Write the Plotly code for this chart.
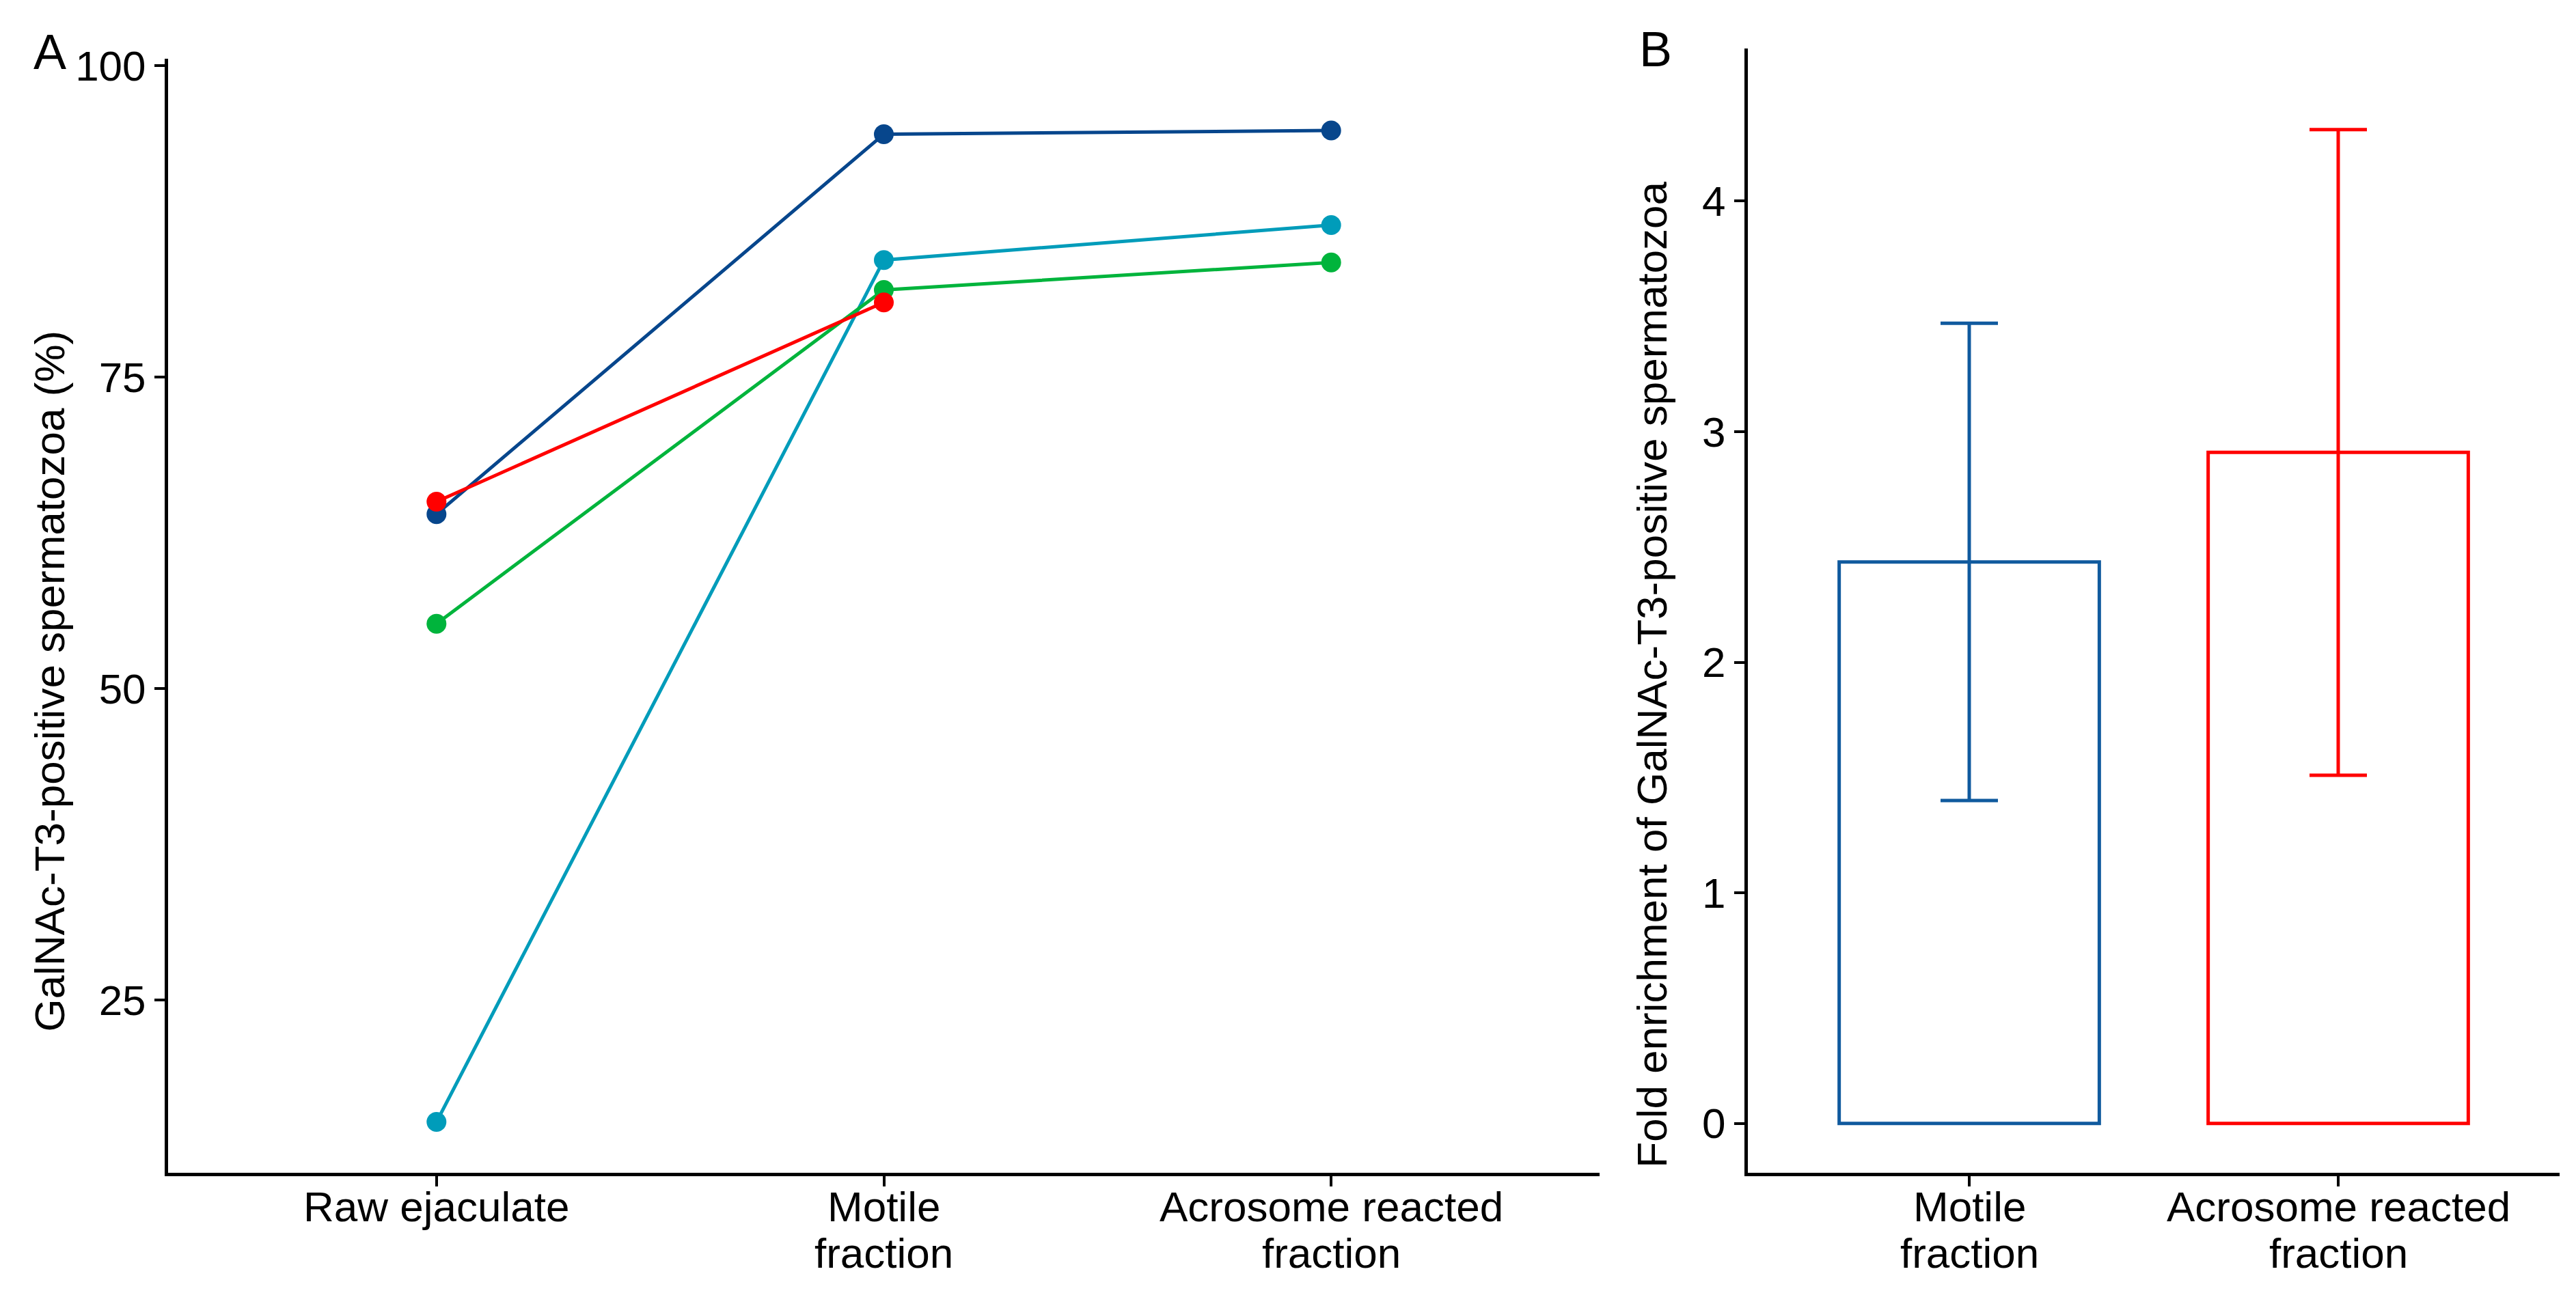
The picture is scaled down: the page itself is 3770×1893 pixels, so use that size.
import plotly.graph_objects as go

# ---- Panel A data ----
stages = ["Raw ejaculate", "Motile\nfraction", "Acrosome reacted\nfraction"]
stage_pos = [0, 1, 2]
donor1 = [64.0, 94.5, 94.8]     # dark blue
donor2 = [15.2, 84.4, 87.2]     # cyan
donor3 = [55.2, 82.0, 84.2]     # green
donor4 = [65.0, 81.0]           # red (no acrosome value)
series_colors = ["#07468C", "#009CBA", "#00B43C", "#FF0000"]
a_ticks = [25, 50, 75, 100]

# ---- Panel B data ----
fractions = ["Motile\nfraction", "Acrosome reacted\nfraction"]
fraction_pos = [0, 1]
fold_mean = [2.435, 2.91]
fold_upper = [3.47, 4.31]
fold_lower = [1.40, 1.51]
bar_colors = ["#105A9E", "#FF0000"]
b_ticks = [0, 1, 2, 3, 4]

W, H = 3770, 1893
FONT = "Liberation Sans, Arial, sans-serif"
DX = -5  # small horizontal correction

def px(x):
    return (x + DX) / W

def py(y):
    return 1 - y / H

fig = go.Figure()

for ys, col in zip([donor1, donor2, donor3, donor4], series_colors):
    fig.add_trace(go.Scatter(
        x=stage_pos[:len(ys)], y=ys, mode="lines+markers",
        line=dict(color=col, width=5),
        marker=dict(color=col, size=29),
        xaxis="x", yaxis="y", showlegend=False))

for i in range(len(fractions)):
    fig.add_trace(go.Bar(
        x=[fraction_pos[i]], y=[fold_mean[i]], width=0.705,
        marker=dict(color="rgba(255,255,255,0)", line=dict(color=bar_colors[i], width=5)),
        error_y=dict(type="data", symmetric=False,
                     array=[fold_upper[i] - fold_mean[i]],
                     arrayminus=[fold_mean[i] - fold_lower[i]],
                     color=bar_colors[i], thickness=5, width=42),
        xaxis="x2", yaxis="y2", showlegend=False))

axis_common = dict(showline=True, linecolor="black", linewidth=5,
                   ticks="outside", ticklen=15, tickwidth=4, tickcolor="black",
                   showgrid=False, zeroline=False,
                   tickfont=dict(family=FONT, size=62, color="black"))

annotations = [
    dict(text="GalNAc-T3-positive spermatozoa (%)", textangle=-90,
         x=px(70), y=py(978), xref="paper", yref="paper",
         xanchor="center", yanchor="middle", showarrow=False,
         font=dict(family=FONT, size=62, color="black")),
    dict(text="Fold enrichment of GalNAc-T3-positive spermatozoa", textangle=-90,
         x=px(2415), y=py(968), xref="paper", yref="paper",
         xanchor="center", yanchor="middle", showarrow=False,
         font=dict(family=FONT, size=62, color="black")),
    dict(text="A", x=px(70), y=py(45), xref="paper", yref="paper",
         xanchor="center", yanchor="middle", showarrow=False,
         font=dict(family=FONT, size=72, color="black")),
    dict(text="B", x=px(2420), y=py(41), xref="paper", yref="paper",
         xanchor="center", yanchor="middle", showarrow=False,
         font=dict(family=FONT, size=72, color="black")),
]

# category labels (two lines with tight ggplot-like line spacing)
line_y = [1757, 1826]
for labels, pos, xref in [(stages, stage_pos, "x"), (fractions, fraction_pos, "x2")]:
    for lab, p in zip(labels, pos):
        for k, part in enumerate(lab.split("\n")):
            annotations.append(dict(
                text=part, x=p, y=py(line_y[k]), xref=xref, yref="paper",
                xanchor="center", yanchor="middle", showarrow=False,
                font=dict(family=FONT, size=62, color="black")))

fig.update_layout(
    width=W, height=H, autosize=False,
    margin=dict(l=0, r=0, t=0, b=0),
    paper_bgcolor="white", plot_bgcolor="white",
    barmode="overlay",
    xaxis=dict(domain=[px(243), px(2338)], range=[-0.6, 2.6],
               tickvals=stage_pos, ticktext=["" for _ in stages],
               anchor="y", **axis_common),
    yaxis=dict(domain=[py(1707), py(55)], range=[11.1, 100.54],
               tickvals=a_ticks, anchor="x", **axis_common),
    xaxis2=dict(domain=[px(2555), px(3743)], range=[-0.6, 1.6],
                tickvals=fraction_pos, ticktext=["" for _ in fractions],
                anchor="y2", **axis_common),
    yaxis2=dict(domain=[py(1707), py(40)], range=[-0.215, 4.66],
                tickvals=b_ticks, anchor="x2", **axis_common),
    annotations=annotations,
)

fig.write_html("out.html")
